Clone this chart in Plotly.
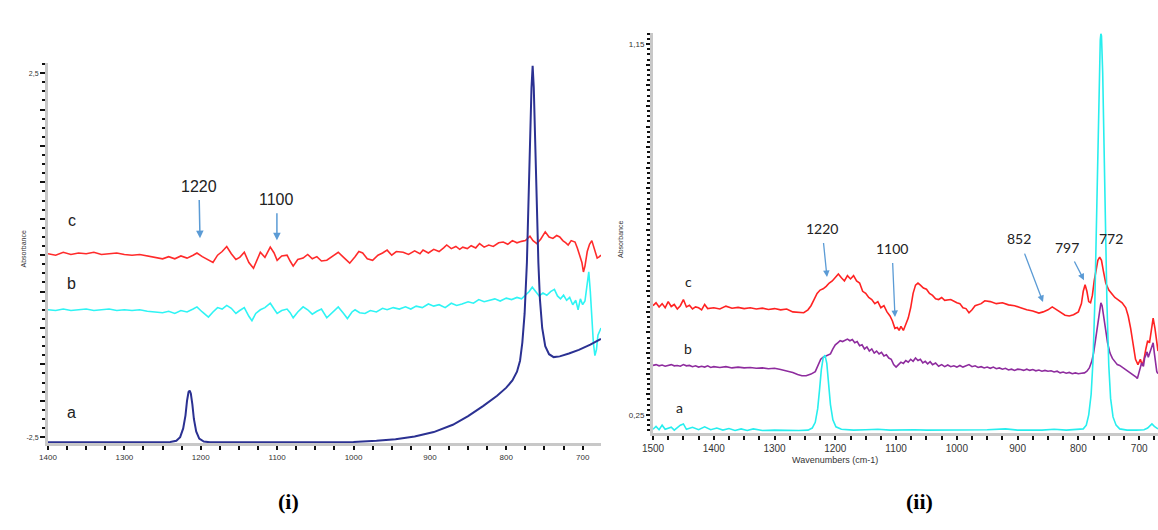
import plotly.graph_objects as go

# ---------------- Panel (i) data (wavenumber, absorbance) ----------------
I_C = [(1400,0.02),(1390,0.0),(1380,0.04),(1370,0.01),(1360,0.03),(1350,0.02),(1340,0.04),(1330,0.01),
       (1320,0.02),(1310,0.03),(1300,0.01),(1290,0.0),(1280,0.01),(1270,-0.01),(1260,-0.04),(1250,-0.05),
       (1242,-0.02),(1234,-0.05),(1226,-0.01),(1218,-0.04),(1210,0.0),(1205,0.03),(1198,-0.02),(1190,-0.06),
       (1184,-0.1),(1178,0.0),(1172,0.05),(1166,0.12),(1160,0.02),(1154,-0.06),(1149,-0.03),(1143,0.04),
       (1137,-0.1),(1131,-0.18),(1126,-0.05),(1122,0.04),(1116,-0.03),(1109,0.11),(1104,0.03),(1100,-0.07),
       (1094,-0.01),(1087,0.0),(1083,-0.08),(1079,-0.15),(1073,-0.06),(1066,-0.04),(1060,0.01),(1054,-0.05),
       (1048,-0.02),(1042,-0.08),(1035,-0.07),(1028,-0.02),(1020,0.04),(1013,-0.03),(1005,-0.11),(998,-0.02),
       (993,0.05),(988,0.03),(982,-0.05),(975,-0.07),(968,0.0),(962,0.03),(956,0.07),(950,0.0),(944,0.05),
       (935,0.04),(928,0.01),(920,0.06),(913,0.02),(909,0.07),(902,0.03),(895,0.08),(888,0.05),(882,0.1),
       (878,0.14),(872,0.09),(866,0.12),(861,0.08),(857,0.11),(851,0.09),(846,0.13),(840,0.1),(835,0.16),
       (829,0.11),(823,0.14),(817,0.12),(810,0.17),(804,0.18),(798,0.15),(792,0.2),(786,0.17),(780,0.19),
       (775,0.2),(769,0.26),(765,0.2),(760,0.16),(755,0.22),(749,0.32),(744,0.25),(739,0.23),(734,0.27),
       (730,0.25),(726,0.2),(722,0.17),(719,0.14),(715,0.2),(710,0.18),(707,0.1),(704,0.0),(701,-0.1),
       (699,-0.23),(697,-0.15),(694,0.05),(691,0.15),(688,0.2),(685,0.1),(681,-0.04),(678,-0.02),(676,0.0)]

I_B = [(1400,-0.75),(1390,-0.76),(1380,-0.74),(1370,-0.76),(1360,-0.75),(1350,-0.74),(1340,-0.76),
       (1330,-0.75),(1320,-0.74),(1310,-0.76),(1300,-0.75),(1290,-0.76),(1280,-0.75),(1270,-0.77),
       (1260,-0.78),(1250,-0.79),(1242,-0.77),(1234,-0.8),(1226,-0.76),(1218,-0.78),(1210,-0.74),
       (1205,-0.71),(1198,-0.78),(1190,-0.85),(1184,-0.78),(1178,-0.72),(1172,-0.74),(1166,-0.69),
       (1160,-0.73),(1154,-0.8),(1149,-0.76),(1143,-0.72),(1137,-0.84),(1133,-0.9),(1128,-0.8),
       (1122,-0.75),(1116,-0.72),(1109,-0.66),(1104,-0.74),(1100,-0.8),(1094,-0.76),(1087,-0.74),
       (1083,-0.79),(1079,-0.86),(1073,-0.78),(1066,-0.71),(1060,-0.75),(1054,-0.81),(1048,-0.77),
       (1042,-0.74),(1035,-0.86),(1028,-0.79),(1020,-0.71),(1013,-0.8),(1008,-0.87),(1002,-0.78),
       (998,-0.75),(992,-0.79),(985,-0.8),(978,-0.76),(970,-0.78),(962,-0.73),(956,-0.75),(948,-0.72),
       (940,-0.74),(932,-0.71),(925,-0.74),(918,-0.7),(910,-0.72),(902,-0.67),(895,-0.7),(888,-0.68),
       (880,-0.72),(872,-0.66),(865,-0.69),(858,-0.67),(850,-0.64),(843,-0.66),(836,-0.61),(829,-0.64),
       (822,-0.62),(815,-0.6),(808,-0.63),(800,-0.59),(793,-0.61),(786,-0.58),(780,-0.6),(775,-0.55),
       (770,-0.5),(766,-0.44),(762,-0.5),(757,-0.56),(752,-0.52),(747,-0.55),(742,-0.5),(737,-0.47),
       (733,-0.56),(729,-0.6),(725,-0.55),(721,-0.62),(717,-0.58),(713,-0.68),(709,-0.62),(706,-0.75),
       (703,-0.6),(700,-0.68),(697,-0.63),(694,-0.35),(692,-0.23),(690,-0.5),(688,-0.9),(686,-1.2),
       (684,-1.38),(682,-1.3),(680,-1.1),(678,-1.05),(676,-1.0)]

I_A = [(1400,-2.57),(1350,-2.57),(1300,-2.565),(1260,-2.57),(1240,-2.565),(1232,-2.55),(1227,-2.5),
       (1223,-2.38),(1220,-2.2),(1218,-2.0),(1216,-1.88),(1214.5,-1.86),(1213,-1.9),(1211,-2.05),
       (1209,-2.25),(1206,-2.42),(1202,-2.52),(1196,-2.56),(1188,-2.57),(1100,-2.57),(1040,-2.57),
       (1000,-2.565),(970,-2.55),(945,-2.53),(920,-2.49),(895,-2.43),(870,-2.33),(850,-2.21),(830,-2.07),
       (812,-1.93),(800,-1.82),(792,-1.72),(786,-1.6),(782,-1.45),(779,-1.2),(776,-0.8),(773,-0.1),
       (771,0.7),(769,1.6),(767,2.3),(765.5,2.6),(764,2.3),(762,1.5),(760,0.6),(758,-0.1),(756,-0.6),
       (753,-1.0),(749,-1.25),(744,-1.36),(738,-1.4),(730,-1.39),(718,-1.35),(705,-1.3),(690,-1.23),
       (676,-1.15)]

# ---------------- Panel (ii) data ----------------
II_C = [(1500,0.515),(1495,0.522),(1490,0.512),(1485,0.52),(1480,0.51),(1475,0.525),(1470,0.513),
        (1465,0.518),(1460,0.507),(1455,0.515),(1450,0.53),(1445,0.512),(1440,0.516),(1435,0.507),
        (1430,0.512),(1425,0.51),(1420,0.505),(1415,0.518),(1410,0.508),(1400,0.51),(1390,0.507),
        (1380,0.514),(1370,0.509),(1360,0.511),(1350,0.508),(1340,0.51),(1330,0.507),(1320,0.509),
        (1310,0.506),(1300,0.508),(1290,0.505),(1280,0.507),(1270,0.5),(1260,0.498),(1252,0.498),
        (1245,0.505),(1240,0.515),(1235,0.53),(1230,0.545),(1225,0.553),(1220,0.556),(1215,0.562),
        (1210,0.57),(1205,0.575),(1200,0.585),(1195,0.592),(1190,0.583),(1185,0.575),(1180,0.588),
        (1175,0.58),(1170,0.588),(1165,0.575),(1160,0.57),(1155,0.55),(1150,0.545),(1145,0.535),
        (1140,0.53),(1135,0.52),(1130,0.525),(1125,0.51),(1120,0.515),(1115,0.5),(1110,0.49),
        (1106,0.478),(1102,0.46),(1098,0.462),(1095,0.455),(1092,0.465),(1088,0.455),(1084,0.468),
        (1080,0.485),(1076,0.51),(1072,0.545),(1068,0.565),(1064,0.57),(1060,0.565),(1055,0.558),
        (1050,0.555),(1045,0.545),(1040,0.54),(1035,0.532),(1030,0.53),(1025,0.535),(1020,0.528),
        (1010,0.53),(1000,0.522),(995,0.52),(990,0.51),(985,0.508),(980,0.498),(975,0.505),(970,0.515),
        (960,0.52),(954,0.527),(945,0.525),(935,0.52),(925,0.522),(915,0.517),(905,0.515),(895,0.51),
        (885,0.505),(875,0.502),(865,0.497),(858,0.5),(850,0.505),(843,0.512),(836,0.505),(830,0.498),
        (822,0.492),(815,0.49),(808,0.493),(800,0.5),(795,0.52),(792,0.55),(789,0.566),(786,0.55),
        (783,0.525),(780,0.522),(777,0.54),(774,0.575),(771,0.605),(768,0.625),(765,0.633),(762,0.625),
        (759,0.6),(755,0.57),(750,0.553),(745,0.545),(740,0.535),(735,0.53),(728,0.522),(722,0.51),
        (718,0.49),(714,0.46),(710,0.42),(706,0.385),(702,0.372),(698,0.385),(695,0.37),(692,0.385),
        (689,0.41),(686,0.43),(683,0.425),(680,0.46),(677,0.485),(674,0.46),(671,0.42),(669,0.405)]

II_B = [(1500,0.37),(1495,0.372),(1490,0.369),(1485,0.371),(1480,0.368),(1475,0.37),(1470,0.372),
        (1465,0.369),(1460,0.37),(1455,0.368),(1450,0.372),(1445,0.369),(1440,0.37),(1435,0.367),
        (1430,0.369),(1425,0.366),(1420,0.368),(1415,0.366),(1410,0.369),(1405,0.365),(1400,0.367),
        (1390,0.365),(1380,0.367),(1370,0.364),(1360,0.366),(1350,0.364),(1340,0.365),(1330,0.363),
        (1320,0.364),(1310,0.362),(1300,0.363),(1290,0.36),(1280,0.357),(1270,0.353),(1262,0.348),
        (1255,0.345),(1248,0.345),(1240,0.349),(1233,0.355),(1228,0.37),(1224,0.385),(1220,0.39),
        (1216,0.393),(1212,0.395),(1208,0.398),(1204,0.41),(1200,0.42),(1196,0.425),(1192,0.43),
        (1188,0.428),(1184,0.432),(1180,0.434),(1176,0.43),(1172,0.433),(1168,0.425),(1164,0.428),
        (1160,0.418),(1156,0.42),(1152,0.41),(1148,0.415),(1144,0.405),(1140,0.41),(1136,0.4),
        (1132,0.405),(1128,0.398),(1124,0.402),(1120,0.393),(1116,0.396),(1112,0.388),(1108,0.385),
        (1104,0.372),(1100,0.366),(1096,0.372),(1092,0.378),(1088,0.375),(1084,0.382),(1080,0.378),
        (1076,0.385),(1072,0.38),(1068,0.388),(1064,0.382),(1060,0.385),(1056,0.376),(1052,0.38),
        (1048,0.374),(1044,0.379),(1040,0.372),(1035,0.376),(1030,0.368),(1025,0.372),(1020,0.367),
        (1015,0.371),(1010,0.367),(1005,0.369),(1000,0.366),(995,0.37),(990,0.366),(985,0.369),
        (980,0.372),(975,0.367),(970,0.369),(965,0.365),(960,0.367),(955,0.364),(950,0.366),(945,0.363),
        (940,0.366),(935,0.362),(930,0.364),(925,0.361),(920,0.363),(915,0.359),(910,0.361),(905,0.358),
        (900,0.361),(895,0.36),(890,0.358),(885,0.361),(880,0.358),(875,0.36),(870,0.357),(865,0.359),
        (860,0.356),(855,0.358),(850,0.356),(845,0.357),(840,0.354),(835,0.356),(830,0.352),(825,0.354),
        (820,0.351),(815,0.353),(810,0.35),(805,0.352),(800,0.35),(795,0.351),(790,0.352),(786,0.356),
        (782,0.364),(778,0.38),(775,0.4),(772,0.43),(769,0.465),(766,0.5),(763,0.522),(761,0.515),
        (758,0.49),(755,0.455),(752,0.425),(748,0.4),(744,0.387),(740,0.378),(736,0.372),(732,0.37),
        (728,0.366),(724,0.362),(720,0.358),(716,0.352),(712,0.35),(708,0.346),(705,0.342),(703,0.338),
        (700,0.352),(698,0.365),(696,0.376),(693,0.368),(691,0.388),(689,0.395),(687,0.403),(685,0.39),
        (683,0.398),(681,0.41),(679,0.418),(677,0.425),(675,0.4),(673,0.37),(671,0.355),(669,0.35)]

II_A = [(1500,0.215),(1495,0.222),(1490,0.214),(1485,0.225),(1480,0.215),(1470,0.22),(1465,0.213),
        (1455,0.225),(1450,0.228),(1445,0.215),(1435,0.22),(1425,0.214),(1415,0.221),(1405,0.214),
        (1395,0.218),(1385,0.213),(1375,0.217),(1365,0.212),(1355,0.216),(1345,0.212),(1335,0.216),
        (1320,0.212),(1300,0.213),(1280,0.212),(1260,0.212),(1245,0.213),(1238,0.218),(1233,0.232),
        (1229,0.265),(1226,0.31),(1223,0.36),(1220,0.388),(1217,0.395),(1214,0.375),(1211,0.33),
        (1208,0.275),(1204,0.238),(1199,0.221),(1190,0.215),(1170,0.213),(1150,0.214),(1130,0.215),
        (1110,0.213),(1090,0.214),(1070,0.214),(1050,0.213),(1000,0.213),(950,0.214),(920,0.216),
        (900,0.213),(860,0.213),(840,0.215),(820,0.213),(800,0.214),(792,0.216),(787,0.225),(783,0.25),
        (779,0.3),(776,0.38),(773,0.52),(770,0.72),(768,0.9),(766,1.06),(764,1.16),(763,1.175),
        (762,1.17),(760,1.08),(758,0.92),(756,0.74),(753,0.52),(750,0.37),(747,0.29),(743,0.245),
        (738,0.225),(732,0.216),(720,0.213),(705,0.213),(692,0.214),(686,0.218),(682,0.225),
        (679,0.228),(675,0.222),(669,0.216)]

I_XTICKS = [1400, 1300, 1200, 1100, 1000, 900, 800, 700]
II_XTICKS = [1500, 1400, 1300, 1200, 1100, 1000, 900, 800, 700]
I_YTICKS = [-2.5, -2.0, -1.5, -1.0, -0.5, 0.0, 0.5, 1.0, 1.5, 2.0, 2.5]
I_YLABELS = ["-2,5", "", "", "", "", "", "", "", "", "", "2,5"]
II_YTICKS = [0.25 + 0.05 * k for k in range(19)]
II_YLABELS = ["0,25"] + [""] * 17 + ["1,15"]


def unzip(pairs):
    return [p[0] for p in pairs], [p[1] for p in pairs]


fig = go.Figure()

for data, color, width, xa, ya in [
    (I_C, "#ff2b2b", 1.6, "x", "y"),
    (I_B, "#2ff4f4", 1.6, "x", "y"),
    (I_A, "#2b3192", 2.0, "x", "y"),
    (II_C, "#ff2222", 1.6, "x2", "y2"),
    (II_B, "#8e2c9e", 1.6, "x2", "y2"),
    (II_A, "#27eeee", 1.6, "x2", "y2"),
]:
    xs, ys = unzip(data)
    fig.add_trace(go.Scatter(x=xs, y=ys, mode="lines", xaxis=xa, yaxis=ya,
                             line=dict(color=color, width=width), showlegend=False,
                             hoverinfo="skip"))

W, H = 1158, 530

axis_common = dict(showgrid=False, zeroline=False, showline=True, linecolor="#c8c8c8",
                   linewidth=3, ticks="outside", tickcolor="#111", tickwidth=1.5)

fig.update_layout(
    width=W, height=H, margin=dict(l=0, r=0, t=0, b=0),
    paper_bgcolor="white", plot_bgcolor="white", template="none",
    xaxis=dict(**axis_common, domain=[48 / W, 601 / W], range=[1400, 676], anchor="y",
               tickmode="array", tickvals=I_XTICKS, ticklen=4,
               tickfont=dict(family="Liberation Sans", size=8, color="#333"),
               minor=dict(dtick=25, tick0=0, ticks="outside", ticklen=4, tickwidth=1.5, tickcolor="#111")),
    yaxis=dict(**axis_common, domain=[(H - 443) / H, (H - 63) / H], range=[-2.58, 2.64], anchor="x",
               tickmode="array", tickvals=I_YTICKS, ticktext=I_YLABELS, ticklen=5,
               tickfont=dict(family="Liberation Sans", size=7, color="#333"),
               minor=dict(dtick=0.125, tick0=0, ticks="outside", ticklen=3, tickwidth=1.5, tickcolor="#111")),
    xaxis2=dict(**axis_common, domain=[653 / W, 1.0], range=[1500, 669], anchor="y2",
                tickmode="array", tickvals=II_XTICKS, ticklen=4,
                tickfont=dict(family="Liberation Sans", size=10, color="#333"),
                minor=dict(dtick=25, tick0=0, ticks="outside", ticklen=4, tickwidth=1.5, tickcolor="#111")),
    yaxis2=dict(**axis_common, domain=[(H - 433) / H, (H - 33) / H], range=[0.206, 1.177], anchor="x2",
                tickmode="array", tickvals=II_YTICKS, ticktext=II_YLABELS, ticklen=4,
                tickfont=dict(family="Liberation Sans", size=8, color="#333"),
                minor=dict(dtick=0.0125, tick0=0, ticks="outside", ticklen=3, tickwidth=1.5, tickcolor="#111")),
)

ARROW = "#5b9bd5"
F1 = dict(family="Liberation Sans", size=16, color="#222")
F2 = dict(family="Lato", size=14, color="#222")

ann = []
# Panel (i) labels
ann.append(dict(x=766.5, y=2.93, xref="x", yref="y", text="772", showarrow=False,
                font=dict(family="Liberation Sans", size=18, color="#222")))
ann.append(dict(x=1201, y=0.234, ax=1202.4, ay=0.95, xref="x", yref="y", axref="x", ayref="y",
                text="1220", font=F1, showarrow=True, arrowhead=2, arrowsize=1, arrowwidth=1.5,
                arrowcolor=ARROW, startstandoff=4))
ann.append(dict(x=1100.3, y=0.206, ax=1100.3, ay=0.77, xref="x", yref="y", axref="x", ayref="y",
                text="1100", font=F1, showarrow=True, arrowhead=2, arrowsize=1, arrowwidth=1.5,
                arrowcolor=ARROW, startstandoff=4))
for t, yv in [("c", 0.48), ("b", -0.385), ("a", -2.157)]:
    ann.append(dict(x=1368.6, y=yv, xref="x", yref="y", text=t, showarrow=False, font=F1))

# Panel (ii) labels
ann.append(dict(x=764.4, y=1.2086, xref="x2", yref="y2", text="770", showarrow=False,
                font=dict(family="Lato", size=16, color="#222")))
for t, tx, ty, hx, hy in [("1220", 1221.9, 0.7036, 1213.7, 0.5847),
                          ("1100", 1106.7, 0.655, 1101.8, 0.4876),
                          ("852", 897.7, 0.677, 858.2, 0.524),
                          ("797", 818.7, 0.6575, 790.8, 0.577)]:
    ann.append(dict(x=hx, y=hy, ax=tx, ay=ty, xref="x2", yref="y2", axref="x2", ayref="y2",
                    text=t, font=F2, showarrow=True, arrowhead=2, arrowsize=1, arrowwidth=1.3,
                    arrowcolor=ARROW, startstandoff=5))
ann.append(dict(x=746.3, y=0.677, xref="x2", yref="y2", text="772", showarrow=False, font=F2))
ann.append(dict(x=1442.4, y=0.5726, xref="x2", yref="y2", text="c", showarrow=False, font=F2))
ann.append(dict(x=1442.4, y=0.41, xref="x2", yref="y2", text="b", showarrow=False, font=F2))
ann.append(dict(x=1457.2, y=0.267, xref="x2", yref="y2", text="a", showarrow=False, font=F2))

# Axis titles and panel captions
ann.append(dict(x=17 / W, y=(H - 249) / H, xref="paper", yref="paper", text="Absorbance",
                textangle=-90, showarrow=False,
                font=dict(family="Liberation Sans", size=7, color="#333")))
ann.append(dict(x=620 / W, y=(H - 240) / H, xref="paper", yref="paper", text="Absorbance",
                textangle=-90, showarrow=False,
                font=dict(family="Liberation Sans", size=7, color="#333")))
ann.append(dict(x=880 / W, y=(H - 467) / H, xref="paper", yref="paper", text="Wavenumbers (cm-1)",
                showarrow=False, font=dict(family="Liberation Sans", size=9, color="#333")))
ann.append(dict(x=276 / W, y=(H - 516) / H, xref="paper", yref="paper", text="<b>(i)</b>",
                showarrow=False, font=dict(family="Liberation Serif", size=22, color="#000")))
ann.append(dict(x=935 / W, y=(H - 516) / H, xref="paper", yref="paper", text="<b>(ii)</b>",
                showarrow=False, font=dict(family="Liberation Serif", size=22, color="#000")))

fig.update_layout(annotations=ann)

fig.write_html("out.html", config={"displayModeBar": False},
               post_script="document.body.style.margin='0';")
